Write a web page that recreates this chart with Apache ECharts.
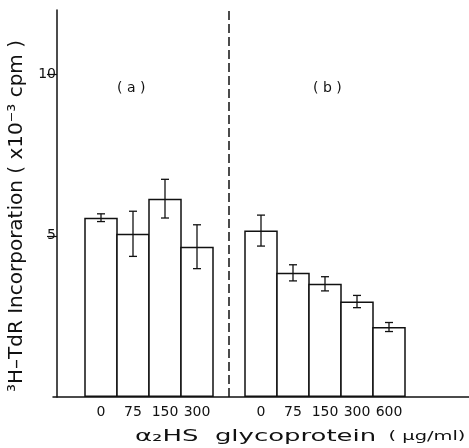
<!doctype html>
<html lang="en">
<head>
	<meta charset="UTF-8">
	<title>a2HS glycoprotein</title>
	<style>
		html, body { margin: 0; padding: 0; background: #fff; }
		#chart { width: 469px; height: 448px; }
	</style>
</head>
<body>
<div id="chart"></div>
<script src="https://cdn.jsdelivr.net/npm/echarts@6/dist/echarts.min.js"></script>
<script>
	// slots on the x axis, empty strings are gaps
	var categories = ['', '0', '75', '150', '300', '', '0', '75', '150', '300', '600', '', ''];
	// group (a)
	var valuesA = [5.56, 5.06, 6.15, 4.66];
	var errorsA = [0.12, 0.70, 0.60, 0.68];
	// group (b)
	var valuesB = [5.16, 3.85, 3.51, 2.96, 2.17];
	var errorsB = [0.48, 0.25, 0.22, 0.19, 0.14];
	var yTicks = [5, 10];

	var startA = 1, startB = 6, dividerSlot = 5;

	// bars and error bars built from the arrays above
	var barData = categories.map(function () { return null; });
	var errData = [];
	valuesA.forEach(function (v, i) {
		barData[startA + i] = v;
		errData.push([startA + i, v, errorsA[i]]);
	});
	valuesB.forEach(function (v, i) {
		barData[startB + i] = v;
		errData.push([startB + i, v, errorsB[i]]);
	});

	var font = 'DejaVu Sans';
	var ink = '#111';

	var myChart = echarts.init(document.getElementById('chart'));
	var option = {
		animation: false,
		backgroundColor: '#fff',
		grid: { left: 53, right: 0, top: 10, bottom: 51 },
		xAxis: {
			type: 'category',
			data: categories,
			axisTick: { show: false },
			axisLine: { lineStyle: { color: ink, width: 1.5 } },
			axisLabel: { color: ink, fontSize: 14, fontFamily: font, margin: 8, interval: 0 }
		},
		yAxis: {
			type: 'value',
			min: 0,
			max: 12,
			offset: -4,
			splitLine: { show: false },
			axisLine: { show: true, lineStyle: { color: ink, width: 1.5 } },
			axisTick: { show: true, length: 10, customValues: yTicks, lineStyle: { color: ink, width: 1.2 } },
			axisLabel: { color: ink, fontSize: 14, fontFamily: font, margin: 1, customValues: yTicks }
		},
		graphic: [
			{
				type: 'text', left: 7, top: 40, rotation: Math.PI / 2,
				style: {
					text: '³H–TdR Incorporation ( x10⁻³ cpm )',
					fill: ink, font: '20px "DejaVu Sans"'
				}
			},
			{ type: 'text', left: 117, top: 81, style: { text: '( a )', fill: ink, font: '14px "DejaVu Sans"' } },
			{ type: 'text', left: 313, top: 81, style: { text: '( b )', fill: ink, font: '14px "DejaVu Sans"' } },
			{
				// wide lettering of the original: stretch the text sideways
				type: 'text', x: 135, y: 429, scaleX: 1.62,
				style: {
					text: '{a|α₂HS  glycoprotein}{u|  ( μg/ml)}',
					rich: {
						a: { fill: ink, fontSize: 16, fontFamily: font },
						u: { fill: ink, fontSize: 12, fontFamily: font }
					}
				}
			}
		],
		series: [
			{
				name: 'incorporation',
				type: 'bar',
				data: barData,
				barWidth: 33.5,
				barGap: '0%',
				itemStyle: { color: '#fff', borderColor: ink, borderWidth: 1.5 },
				markLine: {
					silent: true,
					symbol: 'none',
					label: { show: false },
					lineStyle: { color: ink, width: 1.5, type: [9, 4] },
					data: [{ xAxis: dividerSlot }]
				}
			},
			{
				name: 'error',
				type: 'custom',
				z: 5,
				data: errData,
				renderItem: function (params, api) {
					var x = api.value(0), v = api.value(1), e = api.value(2);
					var hi = api.coord([x, v + e]);
					var lo = api.coord([x, v - e]);
					var h = 4;
					var st = { stroke: ink, lineWidth: 1.3 };
					return {
						type: 'group',
						children: [
							{ type: 'line', shape: { x1: hi[0], y1: hi[1], x2: lo[0], y2: lo[1] }, style: st },
							{ type: 'line', shape: { x1: hi[0] - h, y1: hi[1], x2: hi[0] + h, y2: hi[1] }, style: st },
							{ type: 'line', shape: { x1: lo[0] - h, y1: lo[1], x2: lo[0] + h, y2: lo[1] }, style: st }
						]
					};
				}
			}
		]
	};
	myChart.setOption(option);
</script>
</body>
</html>
